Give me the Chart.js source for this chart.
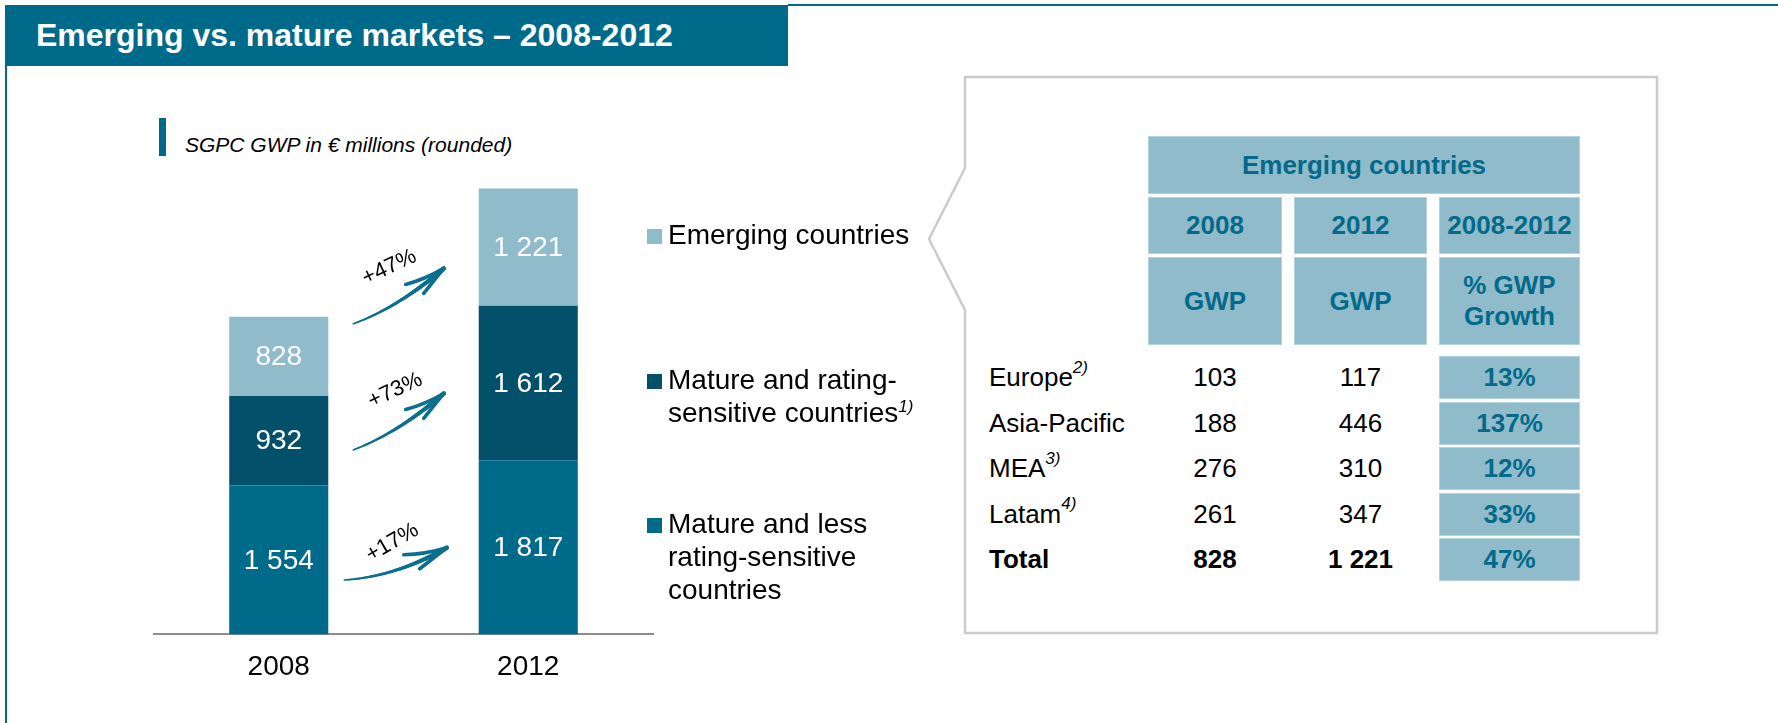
<!DOCTYPE html>
<html>
<head>
<meta charset="utf-8">
<script src="https://cdn.jsdelivr.net/npm/chart.js@4"></script>
<style>
  html, body { margin:0; padding:0; background:#fff; }
  body { width:1778px; height:723px; position:relative; overflow:hidden; font-family:"Liberation Sans", Arial, Helvetica, sans-serif; color:#000; }
  .abs { position:absolute; }
  #titlebar { left:5px; top:5px; width:783px; height:61px; background:#006A8A; }
  #title { left:36px; top:5px; height:61px; line-height:61px; font-size:32px; font-weight:bold; color:#fff; white-space:nowrap; }
  #topline { left:788px; top:4px; width:990px; height:2px; background:#006A8A; }
  #leftline { left:5px; top:66px; width:2px; height:657px; background:#006A8A; }
  #subbar { left:159px; top:118px; width:7px; height:38px; background:#006A8A; }
  #subtitle { left:185px; top:132px; font-size:21px; line-height:25px; font-style:italic; white-space:nowrap; }
  #chartwrap { left:0; top:0; width:700px; height:723px; }
  .lsq { position:absolute; width:15px; height:15px; left:647px; }
  .ltxt { position:absolute; left:668px; font-size:28px; line-height:33px; white-space:nowrap; }
  .sup { font-style:italic; font-size:17px; position:relative; top:-10px; }
  .cell { position:absolute; background:#8FBBCB; box-sizing:border-box; border:1px solid #B4D2DD; color:#036A8A; font-weight:bold; font-size:26px; display:flex; align-items:center; justify-content:center; text-align:center; line-height:31px; }
  .rowlab { position:absolute; left:989px; font-size:26px; display:flex; align-items:center; white-space:nowrap; }
  .num { position:absolute; font-size:26px; display:flex; align-items:center; justify-content:center; white-space:nowrap; }
</style>
</head>
<body>
<div id="titlebar" class="abs"></div>
<div id="title" class="abs">Emerging vs. mature markets – 2008-2012</div>
<div id="topline" class="abs"></div>
<div id="leftline" class="abs"></div>
<div id="subbar" class="abs"></div>
<div id="subtitle" class="abs">SGPC GWP in € millions (rounded)</div>

<svg class="abs" style="left:0;top:0" width="1778" height="723">
  <polygon points="965,77 1657,77 1657,633 965,633 965,310 929,239 965,168" fill="#fff" stroke="#CBCBCB" stroke-width="2.5"/>
</svg>

<div id="chartwrap" class="abs"><canvas id="c" width="700" height="723"></canvas></div>
<div id="legend"></div>
<div id="table"></div>

<script>
// ---------- data ----------
const categories = ['2008', '2012'];
const seriesNames = ['Emerging countries', 'Mature and rating-sensitive countries', 'Mature and less rating-sensitive countries'];
const emerging = [828, 1221];
const matureRatingSensitive = [932, 1612];
const matureLessSensitive = [1554, 1817];
const growthLabels = ['+47%', '+73%', '+17%'];   // emerging, mature rating-sensitive, mature less sensitive

const regions = ['Europe', 'Asia-Pacific', 'MEA', 'Latam', 'Total'];
const regionNotes = ['2)', '', '3)', '4)', ''];
const gwp2008 = [103, 188, 276, 261, 828];
const gwp2012 = [117, 446, 310, 347, 1221];
const gwpGrowth = [13, 137, 12, 33, 47];
const tableHeader = 'Emerging countries';
const colHeads = ['2008', '2012', '2008-2012'];
const colSubHeads = ['GWP', 'GWP', '% GWP<br>Growth'];

// ---------- styles ----------
const COL_LIGHT = '#8FBBCB';
const COL_DARK = '#02506A';
const COL_MID = '#006A8A';
const ARROW_COL = '#0B6F8D';
const FONT = '"Liberation Sans", Arial, Helvetica, sans-serif';

const fmt = n => String(n).replace(/\B(?=(\d{3})+(?!\d))/g, ' ');

// ---------- legend (HTML) ----------
(function(){
  const lg = document.getElementById('legend');
  const items = [
    {col: COL_LIGHT, sq: 229, top: 218, html: 'Emerging countries'},
    {col: COL_DARK, sq: 374, top: 363, html: 'Mature and rating-<br>sensitive countries<span class="sup">1)</span>'},
    {col: COL_MID, sq: 518, top: 507, html: 'Mature and less<br>rating-sensitive<br>countries'}
  ];
  items.forEach(it => {
    const s = document.createElement('div'); s.className = 'lsq'; s.style.top = it.sq + 'px'; s.style.background = it.col; lg.appendChild(s);
    const t = document.createElement('div'); t.className = 'ltxt'; t.style.top = it.top + 'px'; t.innerHTML = it.html; lg.appendChild(t);
  });
})();

// ---------- table (HTML) ----------
(function(){
  const tb = document.getElementById('table');
  const cols = [[1148, 1282], [1294, 1427], [1439, 1580]];
  function cell(x0, x1, y0, y1, html) {
    const d = document.createElement('div'); d.className = 'cell';
    d.style.left = x0 + 'px'; d.style.top = y0 + 'px'; d.style.width = (x1 - x0) + 'px'; d.style.height = (y1 - y0) + 'px';
    d.innerHTML = html; tb.appendChild(d);
  }
  cell(1148, 1580, 136, 194, tableHeader);
  cols.forEach((c, i) => cell(c[0], c[1], 197, 254, colHeads[i]));
  cols.forEach((c, i) => cell(c[0], c[1], 257, 345, colSubHeads[i]));
  regions.forEach((r, i) => {
    const y0 = 356 + i * 45.5, h = 43;
    const bold = (r === 'Total') ? 'bold' : 'normal';
    const lab = document.createElement('div'); lab.className = 'rowlab';
    lab.style.top = y0 + 'px'; lab.style.height = h + 'px'; lab.style.fontWeight = bold;
    lab.innerHTML = r + (regionNotes[i] ? '<span class="sup">' + regionNotes[i] + '</span>' : '');
    tb.appendChild(lab);
    [gwp2008[i], gwp2012[i]].forEach((v, j) => {
      const n = document.createElement('div'); n.className = 'num';
      n.style.left = cols[j][0] + 'px'; n.style.width = (cols[j][1] - cols[j][0]) + 'px';
      n.style.top = y0 + 'px'; n.style.height = h + 'px'; n.style.fontWeight = bold;
      n.textContent = fmt(v); tb.appendChild(n);
    });
    cell(cols[2][0], cols[2][1], y0, y0 + h, gwpGrowth[i] + '%');
  });
})();

// ---------- chart ----------
const segLabels = {
  id: 'segLabels',
  afterDatasetsDraw(chart) {
    const ctx = chart.ctx;
    ctx.save();
    ctx.font = '28px ' + FONT;
    ctx.fillStyle = '#fff';
    ctx.textAlign = 'center';
    ctx.textBaseline = 'middle';
    chart.data.datasets.forEach((ds, di) => {
      chart.getDatasetMeta(di).data.forEach((el, i) => {
        ctx.fillText(fmt(ds.data[i]), el.x, (el.y + el.base) / 2 + 1);
      });
    });
    ctx.restore();
  }
};

// growth arrows between the two bars (annotation overlay)
const ARROWS = [
  {label: growthLabels[0], from: 3239, to: 3817, sx: 25, tx: 35, sag: 11, tdx: 61, tval: 3828, ang: -25, barbs: [[-38, 16], [-20, 25]]},
  {label: growthLabels[1], from: 1924, to: 2513, sx: 25, tx: 35, sag: 11, tdx: 67, tval: 2545, ang: -25, barbs: [[-38, 16], [-20, 25]]},
  {label: growthLabels[2], from: 568, to: 904, sx: 16, tx: 32, sag: 13, tdx: 64, tval: 957, ang: -30, barbs: [[-43, 7], [-27, 21]]}
];
const arrowPlugin = {
  id: 'growthArrows',
  afterDatasetsDraw(chart) {
    const ctx = chart.ctx, ys = chart.scales.y;
    const bars = chart.getDatasetMeta(0).data;
    const r1 = bars[0].x + bars[0].width / 2, l2 = bars[1].x - bars[1].width / 2;
    ctx.save();
    ARROWS.forEach(a => {
      const sx = r1 + a.sx, sy = ys.getPixelForValue(a.from);
      const tx = l2 - a.tx, ty = ys.getPixelForValue(a.to);
      const cx = (sx + tx) / 2, cy = (sy + ty) / 2 + a.sag;
      ctx.strokeStyle = ARROW_COL; ctx.lineCap = 'round'; ctx.lineJoin = 'round';
      let px = sx, py = sy; const N = 40;
      for (let i = 1; i <= N; i++) {
        const t = i / N, u = 1 - t;
        const x = u * u * sx + 2 * u * t * cx + t * t * tx;
        const y = u * u * sy + 2 * u * t * cy + t * t * ty;
        ctx.lineWidth = 1.5 + 3.2 * t;
        ctx.beginPath(); ctx.moveTo(px, py); ctx.lineTo(x, y); ctx.stroke();
        px = x; py = y;
      }
      ctx.lineWidth = 3.6;
      a.barbs.forEach((b, k) => {
        ctx.beginPath();
        ctx.moveTo(tx, ty);
        ctx.quadraticCurveTo(tx + b[0] * 0.5, ty + b[1] * 0.5 + (k === 0 ? 3 : 0), tx + b[0], ty + b[1]);
        ctx.stroke();
      });
      // label
      ctx.save();
      ctx.translate(r1 + a.tdx, ys.getPixelForValue(a.tval));
      ctx.rotate(a.ang * Math.PI / 180);
      ctx.font = '22px ' + FONT;
      ctx.fillStyle = '#000';
      ctx.textAlign = 'center'; ctx.textBaseline = 'middle';
      ctx.fillText(a.label, 0, 0);
      ctx.restore();
    });
    ctx.restore();
  }
};

new Chart(document.getElementById('c'), {
  type: 'bar',
  data: {
    labels: categories,
    datasets: [
      {label: seriesNames[2], data: matureLessSensitive, backgroundColor: COL_MID},
      {label: seriesNames[1], data: matureRatingSensitive, backgroundColor: COL_DARK},
      {label: seriesNames[0], data: emerging, backgroundColor: COL_LIGHT}
    ]
  },
  options: {
    responsive: false,
    animation: false,
    devicePixelRatio: 1,
    layout: {padding: {left: 154, right: 47, top: 155, bottom: 23}},
    datasets: {bar: {barPercentage: 0.397, categoryPercentage: 1, borderWidth: 0}},
    plugins: {legend: {display: false}, tooltip: {enabled: false}, title: {display: false}},
    scales: {
      x: {
        stacked: true,
        grid: {display: false, drawTicks: false},
        border: {display: true, color: '#8C8C8C', width: 2},
        ticks: {color: '#000', padding: 16, font: {family: FONT, size: 28}}
      },
      y: {stacked: true, display: false, min: 0, max: 5000}
    }
  },
  plugins: [segLabels, arrowPlugin]
});
</script>
</body>
</html>
